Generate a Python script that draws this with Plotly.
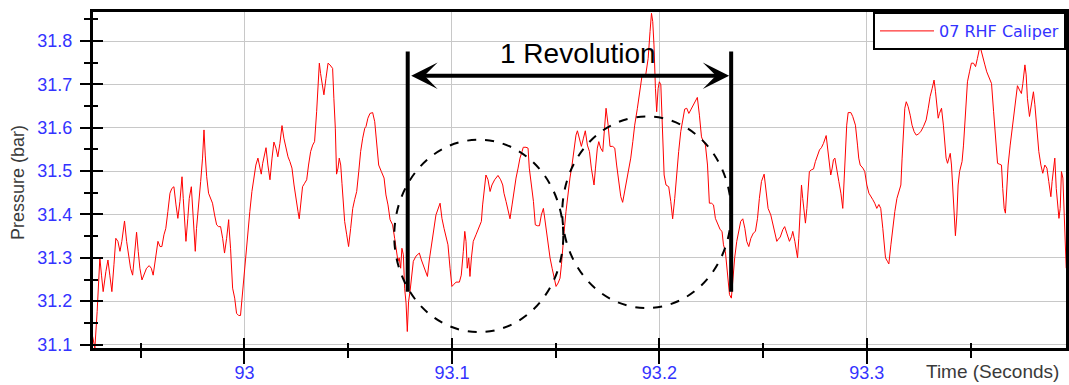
import plotly.graph_objects as go

# ---------------- data ----------------
time_s = [
    92.9268, 92.9279, 92.9290, 92.9295, 92.9303, 92.9311, 92.9319, 92.9332, 92.9342, 92.9351,
    92.9361, 92.9371, 92.9380, 92.9390, 92.9400, 92.9409, 92.9422, 92.9432, 92.9441, 92.9451,
    92.9461, 92.9470, 92.9480, 92.9488, 92.9496, 92.9506, 92.9515, 92.9528, 92.9541, 92.9551,
    92.9560, 92.9570, 92.9583, 92.9593, 92.9602, 92.9612, 92.9621, 92.9631, 92.9641, 92.9650,
    92.9660, 92.9670, 92.9679, 92.9689, 92.9699, 92.9705, 92.9711, 92.9718, 92.9727, 92.9734,
    92.9744, 92.9750, 92.9756, 92.9763, 92.9769, 92.9779, 92.9789, 92.9798, 92.9805, 92.9811,
    92.9818, 92.9827, 92.9837, 92.9846, 92.9856, 92.9866, 92.9875, 92.9885, 92.9895, 92.9904,
    92.9914, 92.9924,
    92.9925, 92.9933, 92.9943, 92.9953, 92.9962, 92.9972, 92.9981, 92.9988, 92.9998, 93.0007,
    93.0017, 93.0026, 93.0036, 93.0046, 93.0055, 93.0065, 93.0075, 93.0081, 93.0088, 93.0094,
    93.0104, 93.0113, 93.0123, 93.0133, 93.0142, 93.0152, 93.0161, 93.0171, 93.0181, 93.0190,
    93.0200, 93.0210, 93.0219, 93.0229, 93.0239, 93.0248, 93.0258, 93.0264, 93.0271, 93.0280,
    93.0290, 93.0300, 93.0309, 93.0319, 93.0329, 93.0338, 93.0348, 93.0354, 93.0361, 93.0367,
    93.0374, 93.0383, 93.0393, 93.0403, 93.0412, 93.0425, 93.0431, 93.0438, 93.0444, 93.0451,
    93.0457, 93.0464, 93.0470, 93.0477, 93.0483, 93.0493, 93.0502, 93.0512, 93.0522, 93.0531,
    93.0541, 93.0551, 93.0560, 93.0570, 93.0580,
    93.0586, 93.0595, 93.0605, 93.0618, 93.0628, 93.0637, 93.0647, 93.0660, 93.0673, 93.0682,
    93.0692, 93.0702, 93.0714, 93.0724, 93.0734, 93.0740, 93.0746, 93.0753, 93.0759, 93.0766,
    93.0772, 93.0779, 93.0785, 93.0791, 93.0798, 93.0804, 93.0814, 93.0827, 93.0843, 93.0853,
    93.0862, 93.0872, 93.0882, 93.0891, 93.0901, 93.0914, 93.0923, 93.0943, 93.0952, 93.0962,
    93.0971, 93.0981, 93.0991, 93.1000, 93.1010, 93.1020, 93.1036, 93.1045, 93.1055, 93.1062,
    93.1068, 93.1074, 93.1081, 93.1087, 93.1094, 93.1103, 93.1116, 93.1129, 93.1142, 93.1148,
    93.1155, 93.1164, 93.1174, 93.1184, 93.1193, 93.1206, 93.1222, 93.1235, 93.1245,
    93.1251, 93.1261, 93.1271, 93.1280, 93.1290, 93.1299, 93.1309, 93.1319, 93.1328, 93.1338,
    93.1344, 93.1357, 93.1367, 93.1373, 93.1383, 93.1393, 93.1402, 93.1412, 93.1422, 93.1431,
    93.1441, 93.1447, 93.1457, 93.1463, 93.1473, 93.1483, 93.1492, 93.1502, 93.1512, 93.1521,
    93.1528, 93.1534, 93.1541, 93.1550, 93.1560, 93.1569, 93.1579, 93.1589, 93.1598, 93.1605,
    93.1614, 93.1624, 93.1634, 93.1643, 93.1653, 93.1663, 93.1672, 93.1685, 93.1692, 93.1701,
    93.1708, 93.1717, 93.1727, 93.1737, 93.1743, 93.1753, 93.1762, 93.1775, 93.1785, 93.1794,
    93.1804, 93.1814, 93.1823, 93.1833, 93.1843, 93.1852, 93.1862, 93.1872, 93.1881, 93.1894,
    93.1904, 93.1913,
    93.1917, 93.1933, 93.1946, 93.1955, 93.1962, 93.1968, 93.1974, 93.1981, 93.1987, 93.1994,
    93.2000, 93.2007, 93.2016, 93.2023, 93.2032, 93.2045, 93.2055, 93.2064, 93.2074, 93.2084,
    93.2093, 93.2103, 93.2113, 93.2122, 93.2132, 93.2142, 93.2151, 93.2161, 93.2174, 93.2183,
    93.2193, 93.2203, 93.2212, 93.2222, 93.2232, 93.2241, 93.2251, 93.2261, 93.2270, 93.2283,
    93.2293, 93.2302, 93.2309, 93.2318, 93.2328, 93.2338, 93.2347, 93.2354, 93.2363, 93.2373,
    93.2383, 93.2392, 93.2402, 93.2412, 93.2421, 93.2431, 93.2441, 93.2453, 93.2463, 93.2473,
    93.2482, 93.2492, 93.2505, 93.2514, 93.2524, 93.2537, 93.2547, 93.2556, 93.2566, 93.2576,
    93.2582, 93.2595, 93.2604, 93.2614, 93.2627, 93.2637, 93.2643, 93.2653, 93.2659, 93.2666,
    93.2672, 93.2678, 93.2685, 93.2691, 93.2698, 93.2704, 93.2711, 93.2717, 93.2723, 93.2733,
    93.2743, 93.2752, 93.2762, 93.2772, 93.2781, 93.2791, 93.2804, 93.2813, 93.2820, 93.2826,
    93.2833, 93.2839, 93.2846, 93.2855, 93.2865, 93.2875, 93.2884, 93.2891, 93.2897, 93.2903,
    93.2910, 93.2923, 93.2932, 93.2945, 93.2955, 93.2961, 93.2968, 93.2981, 93.2990, 93.3000,
    93.3010, 93.3019, 93.3029, 93.3038, 93.3048, 93.3058, 93.3067, 93.3077, 93.3083, 93.3090,
    93.3099, 93.3106, 93.3116, 93.3125, 93.3135, 93.3145, 93.3154, 93.3164, 93.3170, 93.3177,
    93.3183, 93.3190, 93.3199, 93.3209, 93.3218, 93.3228, 93.3238,
    93.3247, 93.3260, 93.3273, 93.3286, 93.3296, 93.3305, 93.3315, 93.3324, 93.3331, 93.3337,
    93.3344, 93.3350, 93.3360, 93.3369, 93.3376, 93.3382, 93.3389, 93.3395, 93.3402, 93.3408,
    93.3414, 93.3421, 93.3427, 93.3434, 93.3440, 93.3447, 93.3453, 93.3459, 93.3466, 93.3472,
    93.3479, 93.3485, 93.3495, 93.3504, 93.3514, 93.3524, 93.3533, 93.3543, 93.3549, 93.3559,
    93.3569, 93.3578, 93.3588, 93.3601, 93.3611, 93.3620, 93.3630, 93.3639, 93.3649, 93.3655,
    93.3662, 93.3668, 93.3675, 93.3681, 93.3691, 93.3700, 93.3710, 93.3720, 93.3726, 93.3736,
    93.3745, 93.3752, 93.3762, 93.3768, 93.3774, 93.3784, 93.3794, 93.3803, 93.3810, 93.3819,
    93.3829, 93.3839, 93.3848, 93.3858, 93.3868, 93.3877, 93.3887, 93.3893, 93.3900, 93.3906,
    93.3913, 93.3919, 93.3926, 93.3932, 93.3938, 93.3945, 93.3951, 93.3958, 93.3961,
]

pressure_bar = [
    31.119, 31.092, 31.176, 31.230, 31.300, 31.260, 31.222, 31.268, 31.295, 31.260,
    31.222, 31.284, 31.345, 31.338, 31.315, 31.338, 31.385, 31.338, 31.307, 31.276,
    31.260, 31.300, 31.359, 31.315, 31.276, 31.249, 31.260, 31.276, 31.282, 31.276,
    31.260, 31.295, 31.338, 31.326, 31.326, 31.353, 31.368, 31.407, 31.449, 31.460,
    31.464, 31.422, 31.391, 31.430, 31.487, 31.437, 31.391, 31.338, 31.391, 31.437,
    31.464, 31.407, 31.353, 31.315, 31.368, 31.414, 31.476, 31.530, 31.595, 31.537,
    31.487, 31.449, 31.437, 31.426, 31.399, 31.376, 31.372, 31.372, 31.345, 31.311,
    31.345, 31.388,
    31.376, 31.322, 31.230, 31.207, 31.172, 31.167, 31.167, 31.207, 31.253, 31.307,
    31.361, 31.407, 31.453, 31.491, 31.514, 31.530, 31.503, 31.493, 31.518, 31.530,
    31.554, 31.514, 31.480, 31.530, 31.567, 31.553, 31.533, 31.564, 31.605, 31.576,
    31.553, 31.533, 31.522, 31.507, 31.468, 31.434, 31.407, 31.390, 31.422, 31.464,
    31.472, 31.480, 31.514, 31.545, 31.560, 31.568, 31.637, 31.691, 31.749, 31.725,
    31.702, 31.676, 31.714, 31.749, 31.745, 31.737, 31.668, 31.599, 31.493, 31.507,
    31.530, 31.514, 31.472, 31.434, 31.384, 31.353, 31.326, 31.368, 31.414, 31.434,
    31.453, 31.499, 31.545, 31.576, 31.599,
    31.603, 31.622, 31.633, 31.635, 31.614, 31.560, 31.514, 31.499, 31.484, 31.445,
    31.422, 31.388, 31.376, 31.345, 31.315, 31.292, 31.300, 31.276, 31.322, 31.307,
    31.230, 31.196, 31.130, 31.199, 31.222, 31.245, 31.292, 31.304, 31.311, 31.295,
    31.284, 31.268, 31.257, 31.295, 31.330, 31.368, 31.399, 31.426, 31.391, 31.368,
    31.349, 31.330, 31.276, 31.234, 31.239, 31.244, 31.244, 31.260, 31.315, 31.361,
    31.338, 31.276, 31.300, 31.257, 31.300, 31.338, 31.353, 31.368, 31.384, 31.422,
    31.453, 31.491, 31.480, 31.453, 31.468, 31.480, 31.490, 31.480, 31.468,
    31.449, 31.430, 31.407, 31.390, 31.422, 31.453, 31.484, 31.507, 31.530, 31.545,
    31.555, 31.555, 31.553, 31.507, 31.468, 31.430, 31.376, 31.374, 31.374, 31.399,
    31.414, 31.391, 31.361, 31.330, 31.300, 31.276, 31.253, 31.234, 31.242, 31.253,
    31.284, 31.330, 31.361, 31.407, 31.453, 31.484, 31.514, 31.545, 31.583, 31.593,
    31.572, 31.557, 31.576, 31.593, 31.560, 31.545, 31.507, 31.468, 31.507, 31.553,
    31.568, 31.553, 31.545, 31.599, 31.645, 31.606, 31.557, 31.557, 31.553, 31.514,
    31.476, 31.441, 31.428, 31.453, 31.484, 31.507, 31.530, 31.568, 31.606, 31.645,
    31.676, 31.710,
    31.722, 31.718, 31.760, 31.822, 31.864, 31.845, 31.791, 31.691, 31.637, 31.691,
    31.706, 31.699, 31.560, 31.491, 31.468, 31.464, 31.430, 31.390, 31.437, 31.499,
    31.545, 31.591, 31.622, 31.643, 31.645, 31.633, 31.641, 31.649, 31.660, 31.670,
    31.629, 31.579, 31.568, 31.560, 31.514, 31.426, 31.426, 31.422, 31.391, 31.376,
    31.365, 31.361, 31.330, 31.315, 31.260, 31.215, 31.207, 31.253, 31.300, 31.338,
    31.361, 31.384, 31.390, 31.368, 31.338, 31.326, 31.345, 31.357, 31.361, 31.391,
    31.437, 31.476, 31.493, 31.460, 31.414, 31.399, 31.376, 31.353, 31.338, 31.345,
    31.347, 31.365, 31.372, 31.357, 31.338, 31.349, 31.361, 31.338, 31.322, 31.300,
    31.345, 31.422, 31.468, 31.437, 31.407, 31.380, 31.414, 31.460, 31.499, 31.503,
    31.505, 31.522, 31.537, 31.549, 31.554, 31.564, 31.582, 31.545, 31.514, 31.491,
    31.507, 31.526, 31.530, 31.499, 31.476, 31.449, 31.414, 31.484, 31.545, 31.606,
    31.635, 31.635, 31.626, 31.606, 31.560, 31.530, 31.514, 31.507, 31.499, 31.468,
    31.449, 31.443, 31.434, 31.426, 31.414, 31.423, 31.414, 31.368, 31.330, 31.300,
    31.292, 31.286, 31.330, 31.368, 31.407, 31.437, 31.453, 31.468, 31.530, 31.599,
    31.645, 31.660, 31.649, 31.629, 31.606, 31.591, 31.583,
    31.585, 31.591, 31.603, 31.618, 31.645, 31.672, 31.691, 31.710, 31.683, 31.653,
    31.622, 31.633, 31.645, 31.606, 31.564, 31.530, 31.518, 31.530, 31.541, 31.514,
    31.468, 31.407, 31.351, 31.399, 31.468, 31.499, 31.510, 31.522, 31.560, 31.614,
    31.668, 31.706, 31.729, 31.749, 31.749, 31.741, 31.760, 31.783, 31.782, 31.760,
    31.745, 31.729, 31.718, 31.702, 31.637, 31.576, 31.518, 31.516, 31.514, 31.460,
    31.414, 31.403, 31.468, 31.514, 31.560, 31.599, 31.637, 31.683, 31.697, 31.687,
    31.679, 31.702, 31.745, 31.722, 31.668, 31.626, 31.656, 31.683, 31.653, 31.599,
    31.545, 31.514, 31.495, 31.514, 31.507, 31.476, 31.441, 31.476, 31.507, 31.530,
    31.460, 31.430, 31.391, 31.414, 31.499, 31.484, 31.407, 31.330, 31.276,
]

assert len(time_s) == len(pressure_bar), (len(time_s), len(pressure_bar))

series_name = "07 RHF Caliper"
x_tickvals = [93.0, 93.1, 93.2, 93.3]
y_tickvals = [31.1, 31.2, 31.3, 31.4, 31.5, 31.6, 31.7, 31.8]
x_range = [92.927, 93.396]
y_range = [31.092, 31.867]

# annotation geometry (data units)
rev_start, rev_end = 93.0787, 93.2346
marker_low, marker_high = 31.222, 31.776
arrow_level = 31.720
label_x, label_y = 93.1609, 31.772
ellipse_a = (93.0722, 93.1537, 31.1286, 31.5724)
ellipse_b = (93.1532, 93.2346, 31.184, 31.626)

BLUE = "#3333ff"
TICKFONT = dict(family="Liberation Sans, Arial, sans-serif", size=18, color=BLUE)

fig = go.Figure()
fig.add_trace(go.Scatter(
    x=time_s, y=pressure_bar, mode="lines", name=series_name,
    line=dict(color="#ff0000", width=1), showlegend=True,
))
# helper trace that carries the inner half of the crossing ticks
fig.add_trace(go.Scatter(x=[], y=[], xaxis="x2", yaxis="y2",
                         showlegend=False, hoverinfo="skip"))

fig.update_layout(
    width=1069, height=385,
    margin=dict(l=93, r=3, t=12, b=37, autoexpand=False),
    paper_bgcolor="white", plot_bgcolor="white",
    xaxis=dict(
        range=x_range, tickvals=x_tickvals, ticks="outside", ticklen=13,
        tickwidth=2, tickcolor="black", tickfont=TICKFONT, automargin=False,
        showgrid=True, gridcolor="#c8c8c8", gridwidth=1,
        showline=True, linecolor="black", linewidth=3, mirror=True,
        zeroline=False, ticklabelstandoff=-7,
        minor=dict(ticks="outside", ticklen=7, tickwidth=2, tickcolor="black",
                   dtick=0.05, tick0=93.0, showgrid=False),
    ),
    yaxis=dict(
        range=y_range, tickvals=y_tickvals, ticks="outside", ticklen=10,
        tickwidth=2, tickcolor="black", tickfont=TICKFONT, automargin=False,
        showgrid=True, gridcolor="#c8c8c8", gridwidth=1,
        showline=True, linecolor="black", linewidth=3, mirror=True,
        zeroline=False, ticklabelstandoff=4,
        minor=dict(ticks="outside", ticklen=6, tickwidth=2, tickcolor="black",
                   dtick=0.05, tick0=31.1, showgrid=False),
    ),
    xaxis2=dict(
        range=x_range, overlaying="x", anchor="y2", side="bottom",
        tickvals=x_tickvals, ticks="inside", ticklen=10, tickwidth=2,
        tickcolor="black", showticklabels=False, showgrid=False,
        showline=False, zeroline=False, automargin=False,
        minor=dict(ticks="inside", ticklen=5, tickwidth=2, tickcolor="black",
                   dtick=0.05, tick0=93.0, showgrid=False),
    ),
    yaxis2=dict(
        range=y_range, overlaying="y", anchor="x2", side="left",
        tickvals=y_tickvals, ticks="inside", ticklen=10, tickwidth=2,
        tickcolor="black", showticklabels=False, showgrid=False,
        showline=False, zeroline=False, automargin=False,
        minor=dict(ticks="inside", ticklen=5, tickwidth=2, tickcolor="black",
                   dtick=0.05, tick0=31.1, showgrid=False),
    ),
    legend=dict(
        x=1, y=1, xanchor="right", yanchor="top",
        bgcolor="white", bordercolor="black", borderwidth=2,
        itemwidth=54,
        font=dict(family="DejaVu Sans, Verdana, sans-serif", size=16, color=BLUE),
    ),
    showlegend=True,
)

# revolution markers
for xv in (rev_start, rev_end):
    fig.add_shape(type="line", xref="x", yref="y", x0=xv, x1=xv,
                  y0=marker_low, y1=marker_high,
                  line=dict(color="black", width=4), layer="above")

# dashed ellipses
for (ex0, ex1, ey0, ey1) in (ellipse_a, ellipse_b):
    fig.add_shape(type="circle", xref="x", yref="y", x0=ex0, x1=ex1,
                  y0=ey0, y1=ey1,
                  line=dict(color="black", width=2, dash="dash"), layer="above")

# double-headed arrow
fig.add_annotation(
    x=rev_end, y=arrow_level, ax=rev_start, ay=arrow_level,
    xref="x", yref="y", axref="x", ayref="y",
    text="", showarrow=True, arrowhead=3, startarrowhead=3,
    arrowside="end+start", arrowwidth=4, arrowsize=1.1, startarrowsize=1.1,
    arrowcolor="black", standoff=2, startstandoff=2,
)
fig.add_annotation(
    x=label_x, y=label_y, xref="x", yref="y", text="1 Revolution",
    showarrow=False, xanchor="center", yanchor="middle",
    font=dict(family="Liberation Sans, Arial, sans-serif", size=28, color="black"),
)
fig.add_annotation(
    x=-0.0771, y=0.494, xref="paper", yref="paper", text="Pressure (bar)",
    textangle=-90, showarrow=False, xanchor="center", yanchor="middle",
    font=dict(family="Liberation Sans, Arial, sans-serif", size=18, color="#3a3a3a"),
)
fig.add_annotation(
    x=0.9949, y=-0.0685, xref="paper", yref="paper", text="Time (Seconds)",
    showarrow=False, xanchor="right", yanchor="middle",
    font=dict(family="Liberation Sans, Arial, sans-serif", size=19, color="#3a3a3a"),
)

fig.write_html("out.html")
